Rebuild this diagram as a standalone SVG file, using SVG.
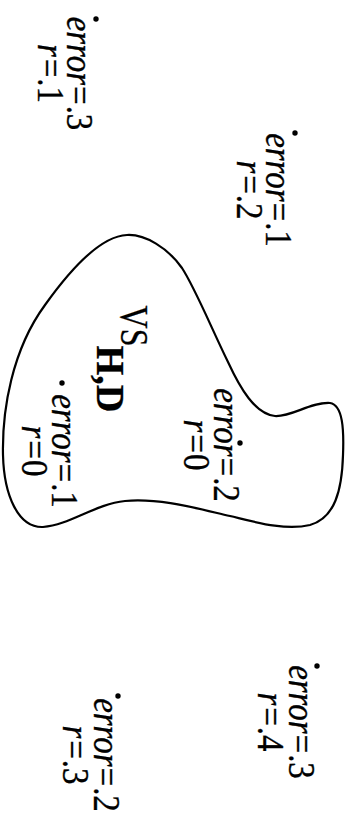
<svg xmlns="http://www.w3.org/2000/svg" width="349" height="819" viewBox="0 0 349 819">
<style>
text{font-family:"Liberation Serif","Times New Roman",serif;font-size:33px;fill:#000;stroke:#000;stroke-width:0.3;text-anchor:middle}
.i{font-style:italic}
.vs{font-size:39px}
.hd{font-size:39px;font-weight:bold}
.blob{fill:none;stroke:#000;stroke-width:2.2}
</style>
<g id="vs-region">
<path class="blob" d="M127,235 C145,234 168,248 182,268 C195,288 210,325 228,362 C240,388 255,414 275,416 C292,417 310,402 330,403 C343,405 344,430 343,455 C342,490 335,518 310,525 C285,531 255,522 230,516 C195,508 160,498 125,501 C95,504 70,525 43,527 C18,528 4,495 3,455 C2,410 12,350 45,305 C70,270 100,236 127,235 Z"/>
<g transform="translate(121,326) rotate(90)"><text x="0" y="0" class="vs" textLength="41" lengthAdjust="spacingAndGlyphs">VS</text></g>
<g transform="translate(97,379) rotate(90)"><text x="0" y="0" class="hd" textLength="67" lengthAdjust="spacingAndGlyphs">H,D</text></g>
</g>
<g id="p1">
<circle cx="96" cy="19" r="2.7"/>
<g transform="translate(67,73.5) rotate(90) scale(1,1.12)">
<text x="0" y="0"><tspan class="i">error</tspan><tspan dx="1">=</tspan><tspan dx="1">.3</tspan></text>
<text x="0" y="26" ><tspan class="i">r</tspan><tspan dx="2">=</tspan><tspan dx="1">.1</tspan></text>
</g>
</g>
<g id="p2">
<circle cx="295" cy="133" r="2.7"/>
<g transform="translate(266,190) rotate(90) scale(1,1.12)">
<text x="0" y="0"><tspan class="i">error</tspan><tspan dx="1">=</tspan><tspan dx="1">.1</tspan></text>
<text x="0" y="26"><tspan class="i">r</tspan><tspan dx="2">=</tspan><tspan dx="1">.2</tspan></text>
</g>
</g>
<g id="p3">
<circle cx="240" cy="443" r="2.7"/>
<g transform="translate(214,445) rotate(90) scale(1,1.12)">
<text x="0" y="0"><tspan class="i">error</tspan><tspan dx="1">=</tspan><tspan dx="1">.2</tspan></text>
<text x="0" y="27"><tspan class="i">r</tspan><tspan dx="2">=</tspan><tspan dx="1">0</tspan></text>
</g>
</g>
<g id="p4">
<circle cx="62" cy="383" r="2.7"/>
<g transform="translate(52,451) rotate(90) scale(1,1.12)">
<text x="0" y="0"><tspan class="i">error</tspan><tspan dx="1">=</tspan><tspan dx="1">.1</tspan></text>
<text x="0" y="27"><tspan class="i">r</tspan><tspan dx="2">=</tspan><tspan dx="1">0</tspan></text>
</g>
</g>
<g id="p5">
<circle cx="317" cy="666" r="2.7"/>
<g transform="translate(289,722) rotate(90) scale(1,1.12)">
<text x="0" y="0"><tspan class="i">error</tspan><tspan dx="1">=</tspan><tspan dx="1">.3</tspan></text>
<text x="0" y="28"><tspan class="i">r</tspan><tspan dx="2">=</tspan><tspan dx="1">.4</tspan></text>
</g>
</g>
<g id="p6">
<circle cx="118" cy="696" r="2.7"/>
<g transform="translate(94,755) rotate(90) scale(1,1.12)">
<text x="0" y="0"><tspan class="i">error</tspan><tspan dx="1">=</tspan><tspan dx="1">.2</tspan></text>
<text x="0" y="28"><tspan class="i">r</tspan><tspan dx="2">=</tspan><tspan dx="1">.3</tspan></text>
</g>
</g>
</svg>
